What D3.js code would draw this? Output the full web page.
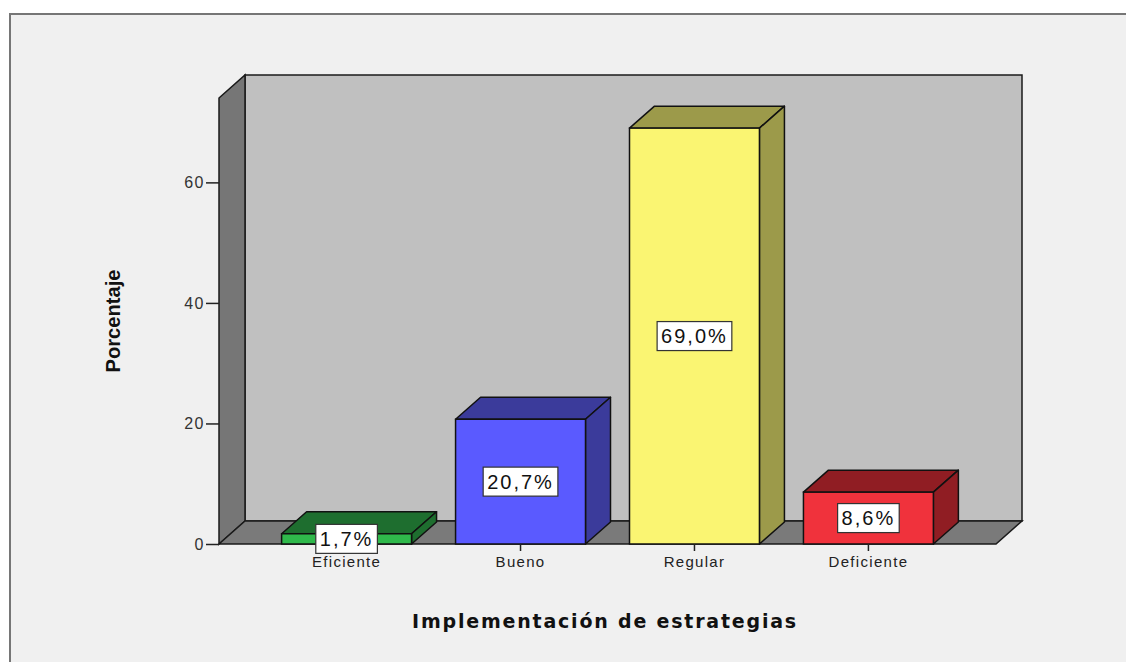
<!DOCTYPE html>
<html>
<head>
<meta charset="utf-8">
<script src="https://cdn.jsdelivr.net/npm/d3@7/dist/d3.min.js"></script>
<style>
  body { margin: 0; background: #fff; }
  svg { display: block; }
</style>
</head>
<body>
<svg id="chart" width="1126" height="662"></svg>
<script>
// data
var categories = ["Eficiente", "Bueno", "Regular", "Deficiente"];
var percentages = [1.7, 20.7, 69.0, 8.6];
var labels = ["1,7%", "20,7%", "69,0%", "8,6%"];
var frontColors = ["#2fb94b", "#5a5aff", "#faf572", "#f0323c"];
var sideColors = ["#1e6e2f", "#3b3b9b", "#9c9a4a", "#901d23"];
var yTicks = [0, 20, 40, 60];

var svg = d3.select("#chart");

// frame
svg.append("rect")
   .attr("x", 10).attr("y", 14)
   .attr("width", 1130).attr("height", 660)
   .attr("fill", "#f0f0f0")
   .attr("stroke", "#767676")
   .attr("stroke-width", 2);

// plot geometry (front plane + depth offset)
var pLeft = 219, pRight = 996, pBase = 544, pTop = 98;
var dx = 26, dy = -23;      // wall depth
var bdx = 25, bdy = -22;    // bar depth

var y = d3.scaleLinear().domain([0, 74]).range([pBase, pTop]);
var x = d3.scaleBand().domain(categories).range([pLeft, pRight])
          .paddingInner(0.253).paddingOuter(0.36);

var g = svg.append("g");

// back wall
g.append("rect")
 .attr("x", pLeft + dx).attr("y", pTop + dy)
 .attr("width", pRight - pLeft).attr("height", pBase - pTop)
 .attr("fill", "#c0c0c0")
 .attr("stroke", "#1a1a1a").attr("stroke-width", 1.5);

// left wall
g.append("polygon")
 .attr("points", [[pLeft, pTop], [pLeft + dx, pTop + dy], [pLeft + dx, pBase + dy], [pLeft, pBase]].join(" "))
 .attr("fill", "#767676")
 .attr("stroke", "#1a1a1a").attr("stroke-width", 1.5);

// floor
g.append("polygon")
 .attr("points", [[pLeft, pBase], [pLeft + dx, pBase + dy], [pRight + dx, pBase + dy], [pRight, pBase]].join(" "))
 .attr("fill", "#7a7a7a")
 .attr("stroke", "#1a1a1a").attr("stroke-width", 1.5);

// y axis
var yAxis = d3.axisLeft(y).tickValues(yTicks).tickSize(13).tickPadding(1);
var ya = svg.append("g").attr("transform", "translate(" + pLeft + ",0)").call(yAxis);
ya.select(".domain").remove();
ya.selectAll(".tick line").attr("stroke", "#222").attr("stroke-width", 1.5);
ya.selectAll(".tick text").attr("fill", "#333")
  .attr("font-family", "Liberation Sans, Arial, sans-serif").attr("font-size", 16)
  .attr("letter-spacing", 1.5);

// bars
var bars = g.selectAll(".bar").data(categories).enter().append("g").attr("class", "bar");

bars.append("polygon") // top
  .attr("points", function(d, i) {
    var x0 = x(d), w = x.bandwidth(), yv = y(percentages[i]);
    return [[x0, yv], [x0 + bdx, yv + bdy], [x0 + w + bdx, yv + bdy], [x0 + w, yv]].join(" ");
  })
  .attr("fill", function(d, i) { return sideColors[i]; })
  .attr("stroke", "#111").attr("stroke-width", 1.5).attr("stroke-linejoin", "round");

bars.append("polygon") // side
  .attr("points", function(d, i) {
    var x1 = x(d) + x.bandwidth(), yv = y(percentages[i]);
    return [[x1, yv], [x1 + bdx, yv + bdy], [x1 + bdx, pBase + bdy], [x1, pBase]].join(" ");
  })
  .attr("fill", function(d, i) { return sideColors[i]; })
  .attr("stroke", "#111").attr("stroke-width", 1.5).attr("stroke-linejoin", "round");

bars.append("rect") // front
  .attr("x", function(d) { return x(d); })
  .attr("y", function(d, i) { return y(percentages[i]); })
  .attr("width", x.bandwidth())
  .attr("height", function(d, i) { return pBase - y(percentages[i]); })
  .attr("fill", function(d, i) { return frontColors[i]; })
  .attr("stroke", "#111").attr("stroke-width", 1.5);

// x axis (categories)
var xAxis = d3.axisBottom(x).tickSize(7).tickPadding(5);
var xa = svg.append("g").attr("transform", "translate(0," + pBase + ")").call(xAxis);
xa.select(".domain").remove();
xa.selectAll(".tick line").attr("stroke", "#222").attr("stroke-width", 1.5);
xa.selectAll(".tick text").attr("fill", "#222")
  .attr("font-family", "Liberation Sans, Arial, sans-serif").attr("font-size", 15)
  .attr("letter-spacing", 1.3);

// value labels
var lab = svg.selectAll(".lab").data(categories).enter().append("g").attr("class", "lab")
  .attr("transform", function(d, i) {
    var cy = (y(percentages[i]) + pBase) / 2;
    return "translate(" + (x(d) + x.bandwidth() / 2) + "," + cy + ")";
  });
lab.append("text")
  .attr("text-anchor", "middle").attr("dy", "0.36em")
  .attr("font-family", "Liberation Sans, Arial, sans-serif").attr("font-size", 20)
  .attr("letter-spacing", 2)
  .attr("fill", "#111")
  .text(function(d, i) { return labels[i]; })
  .each(function() {
    var b = this.getBBox();
    d3.select(this.parentNode).insert("rect", "text")
      .attr("x", b.x - 4).attr("y", -14.5)
      .attr("width", b.width + 8).attr("height", 29)
      .attr("fill", "#fff").attr("stroke", "#333").attr("stroke-width", 1.2);
  });

// axis titles
svg.append("text")
   .attr("x", 605).attr("y", 628)
   .attr("text-anchor", "middle")
   .attr("font-family", "DejaVu Sans, sans-serif").attr("font-weight", "bold")
   .attr("font-size", 19).attr("letter-spacing", 1.8)
   .attr("fill", "#111")
   .text("Implementación de estrategias");

svg.append("text")
   .attr("transform", "translate(120,321) rotate(-90)")
   .attr("text-anchor", "middle")
   .attr("font-family", "Liberation Sans, Arial, sans-serif").attr("font-weight", "bold")
   .attr("font-size", 21)
   .attr("textLength", 103).attr("lengthAdjust", "spacingAndGlyphs")
   .attr("fill", "#111")
   .text("Porcentaje");
</script>
</body>
</html>
